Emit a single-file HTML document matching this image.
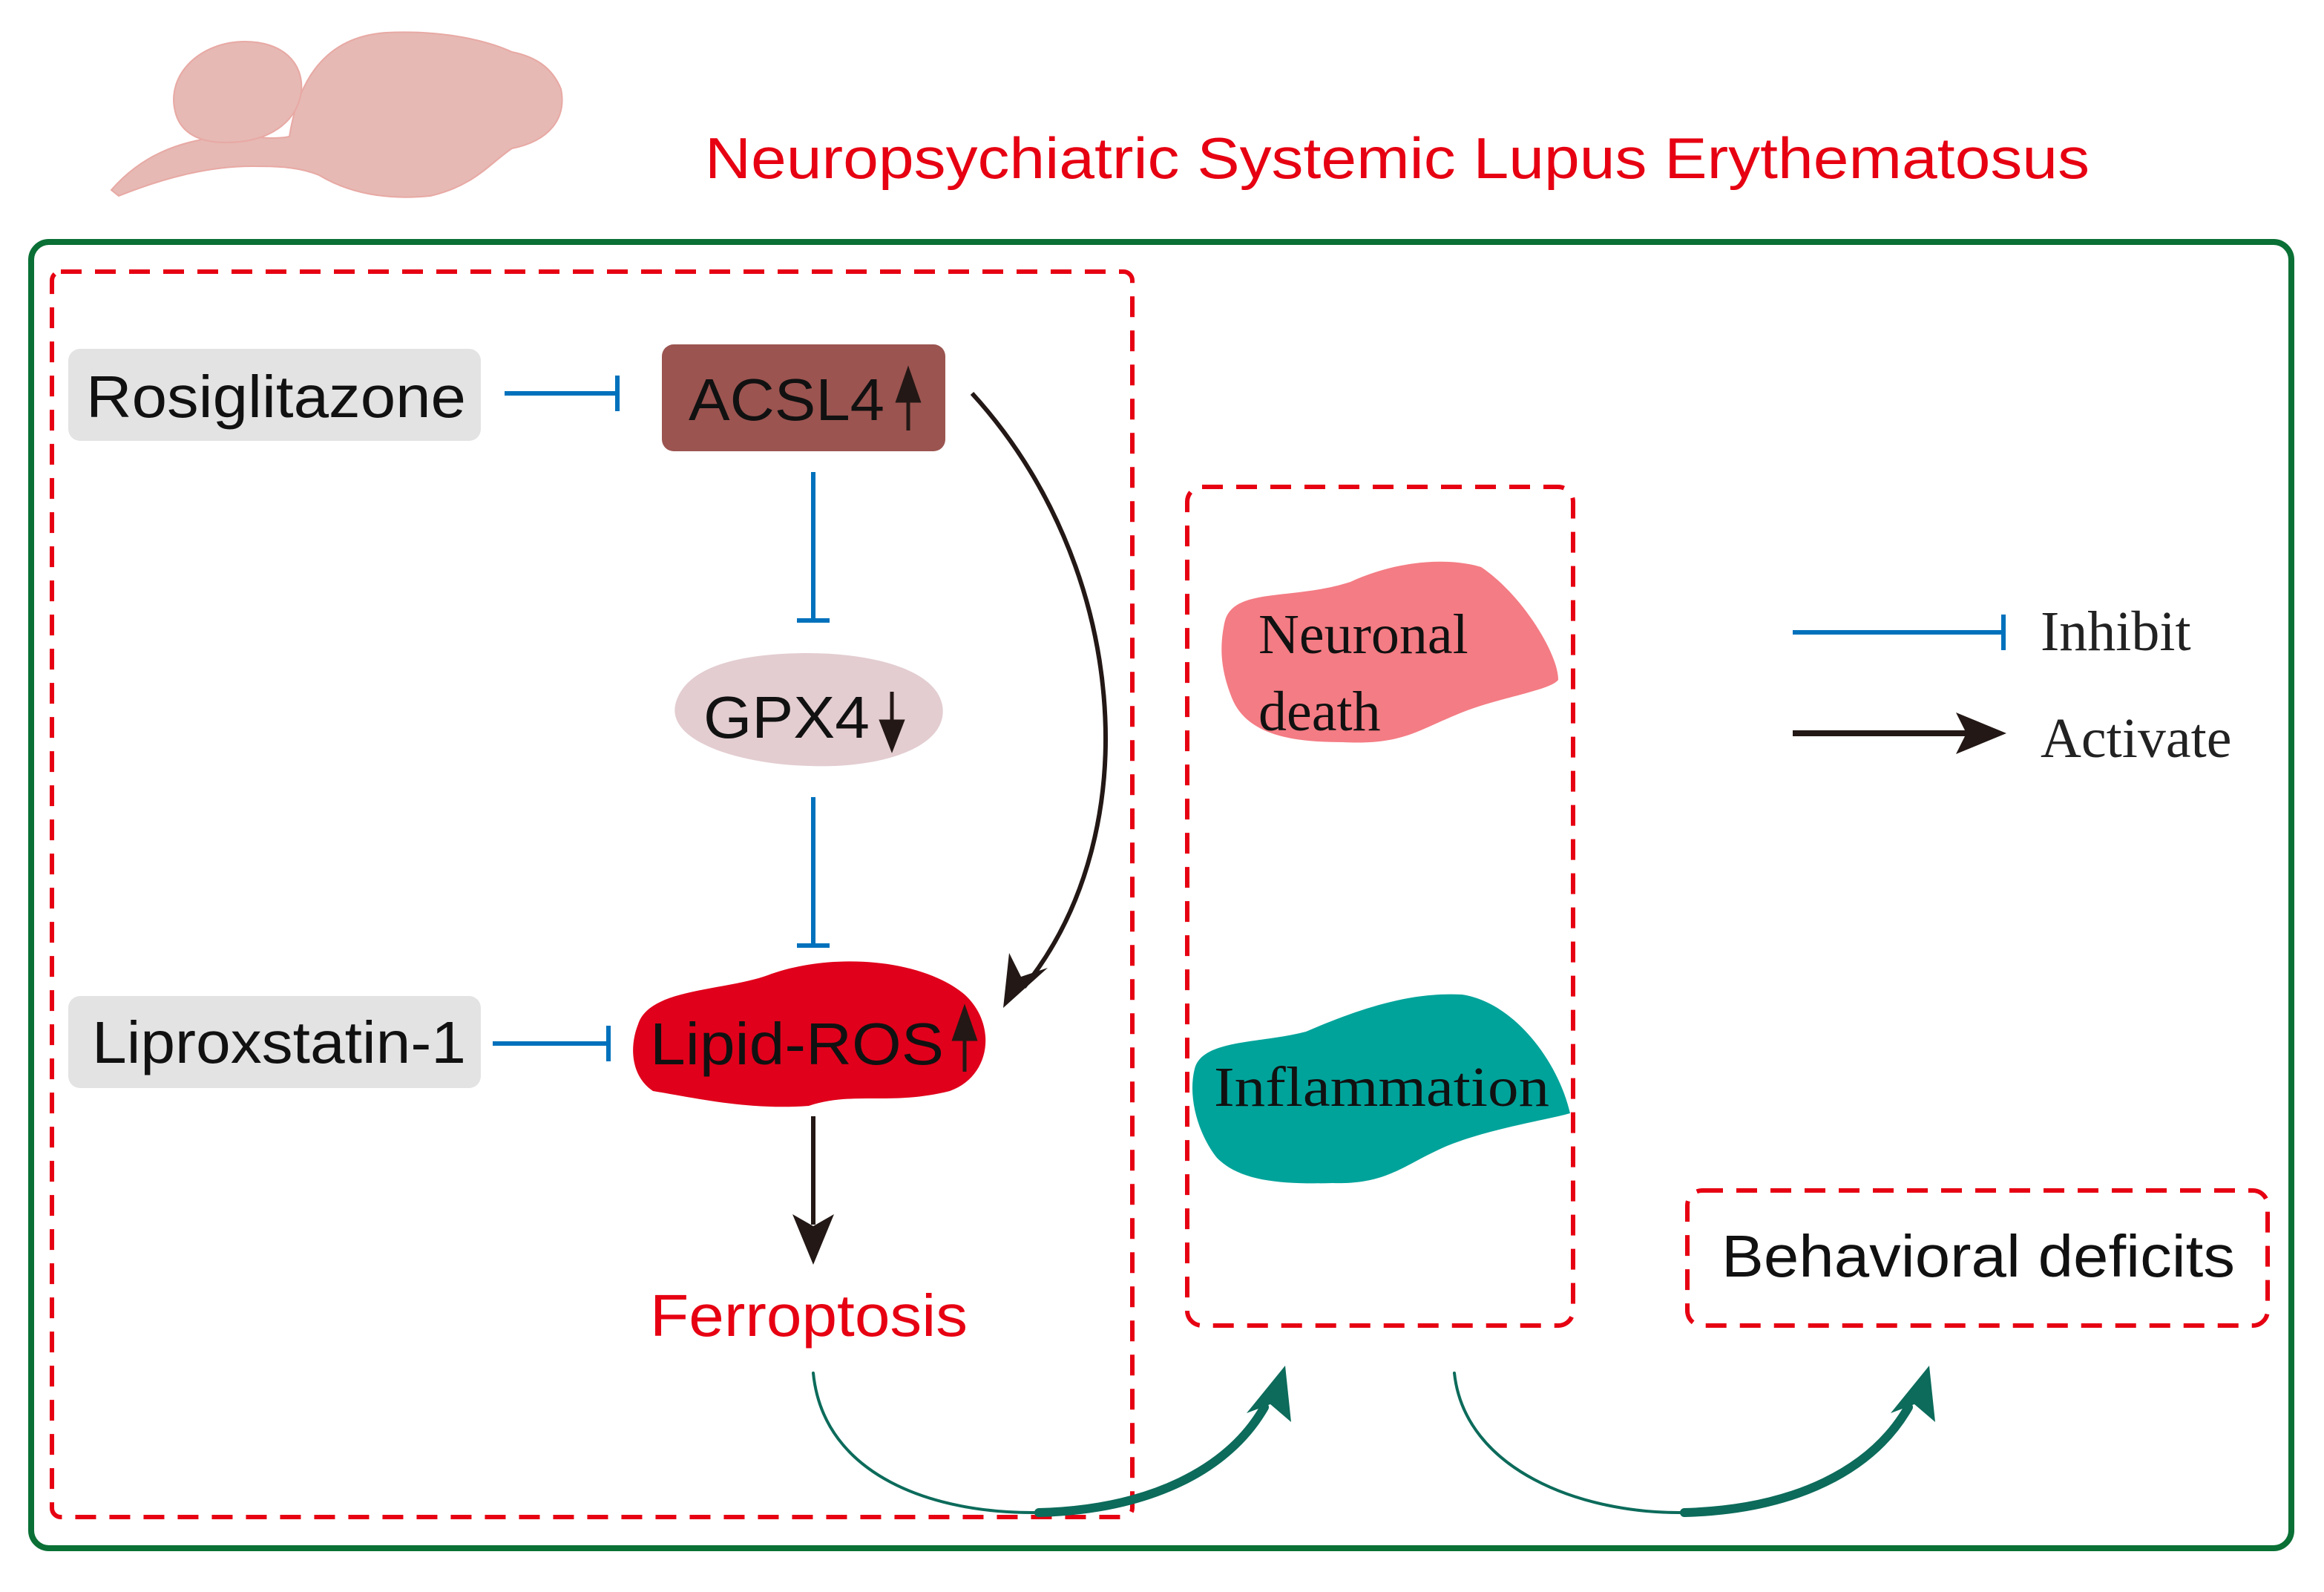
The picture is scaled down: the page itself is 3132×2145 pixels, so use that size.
<!DOCTYPE html>
<html><head><meta charset="utf-8"><style>
html,body{margin:0;padding:0;background:#fff;}
svg{display:block;}
.s{font-family:"Liberation Sans",Arial,sans-serif;}
.r{font-family:"Liberation Serif","DejaVu Serif",serif;}
</style></head><body>
<svg width="3132" height="2145" viewBox="0 0 1566 1072.5" xmlns="http://www.w3.org/2000/svg">
<!-- brain -->
<g fill="#e6b9b4" stroke="#e8a9a4" stroke-width="1">
<path d="M75,128 C95,105 120,95 150,92 C165,90 180,95 195,92 C200,60 215,25 260,22 C300,20 330,28 345,35 C360,38 372,45 378,60 C382,80 370,95 345,100 C330,110 320,125 290,132 C260,135 235,130 215,118 C200,112 185,112 170,112 C140,112 110,120 80,132 z"/>
<path d="M118,75 C112,50 135,28 165,28 C190,28 205,42 203,62 C200,82 182,96 152,96 C132,96 121,88 118,75 z"/>
</g>
<text x="475" y="120" class="s" font-size="39" fill="#e60012" textLength="933" lengthAdjust="spacingAndGlyphs">Neuropsychiatric Systemic Lupus Erythematosus</text>
<rect x="21" y="163" width="1523" height="880" rx="12" fill="none" stroke="#0a7035" stroke-width="4"/>
<g fill="none" stroke="#e60012" stroke-width="3" stroke-dasharray="14,9">
<rect x="35" y="183" width="728" height="839" rx="6"/>
<rect x="800" y="328" width="260" height="565" rx="10"/>
<rect x="1137" y="802" width="391" height="91" rx="10"/>
</g>
<rect x="46" y="235" width="278" height="62" rx="8" fill="#e3e3e3"/>
<text x="58" y="281" class="s" font-size="40" fill="#111" textLength="256" lengthAdjust="spacingAndGlyphs">Rosiglitazone</text>
<g stroke="#0071bc" stroke-width="3" fill="none">
<path d="M340,265 H416 M416,253 V277"/>
<path d="M548,318 V418 M537,418 H559"/>
<path d="M548,537 V637 M537,637 H559"/>
<path d="M332,703 H410 M410,691 V715"/>
<path d="M1208,426 H1350 M1350,414 V438"/>
</g>
<rect x="446" y="232" width="191" height="72" rx="8" fill="#9b5450"/>
<text x="464" y="283" class="s" font-size="40" fill="#111" textLength="132" lengthAdjust="spacingAndGlyphs">ACSL4</text>
<path d="M612,290 V258 M605,270 L612,250 L619,270 z" stroke="#231815" stroke-width="2.5" fill="#231815"/>
<path d="M455,475 C462,445 510,440 545,440 C585,440 630,450 635,475 C640,505 590,518 545,516 C500,515 450,500 455,475 z" fill="#e3cdd1"/>
<text x="474" y="497" class="s" font-size="40" fill="#111" textLength="112" lengthAdjust="spacingAndGlyphs">GPX4</text>
<path d="M601,466 V498 M594,486 L601,504 L608,486 z" stroke="#231815" stroke-width="2.5" fill="#231815"/>
<path d="M430,690 C438,665 490,668 520,656 C560,642 620,645 650,670 C672,690 668,725 640,735 C600,745 575,735 545,745 C505,748 470,740 440,735 C425,725 424,705 430,690 z" fill="#e0001b"/>
<text x="438" y="717" class="s" font-size="40" fill="#111" textLength="198" lengthAdjust="spacingAndGlyphs">Lipid-ROS</text>
<path d="M650,722 V688 M643,700 L650,680 L657,700 z" stroke="#231815" stroke-width="2.5" fill="#231815"/>
<rect x="46" y="671" width="278" height="62" rx="8" fill="#e3e3e3"/>
<text x="62" y="716" class="s" font-size="40" fill="#111" textLength="252" lengthAdjust="spacingAndGlyphs">Liproxstatin-1</text>
<path d="M655,265 C760,380 775,560 690,665" stroke="#231815" stroke-width="3" fill="none"/>
<path d="M676,679 L680,642 L688,658 L706,652 z" fill="#231815"/>
<path d="M548,752 V825" stroke="#231815" stroke-width="3"/>
<path d="M534,818 L548,852 L562,818 L548,826 z" fill="#231815"/>
<path d="M1208,494 H1330" stroke="#231815" stroke-width="4"/>
<path d="M1318,480 L1352,494 L1318,508 L1325,494 z" fill="#231815"/>
<text x="438" y="900" class="s" font-size="40" fill="#e60012" textLength="214" lengthAdjust="spacingAndGlyphs">Ferroptosis</text>
<path d="M825,420 C830,395 870,405 910,392 C940,378 975,375 998,382 C1025,400 1050,440 1050,458 C1045,465 1010,470 985,480 C955,492 945,502 905,500 C870,500 840,495 830,470 C822,450 822,435 825,420 z" fill="#f47c84"/>
<text x="848" y="440" class="r" font-size="38" fill="#111">Neuronal</text>
<text x="848" y="492" class="r" font-size="38" fill="#111">death</text>
<path d="M805,720 C810,700 850,703 880,695 C915,680 950,668 985,670 C1020,675 1050,715 1058,750 C1040,755 1005,760 975,772 C945,785 935,798 898,797 C860,798 835,795 820,780 C808,765 800,740 805,720 z" fill="#00a39a"/>
<text x="818" y="745" class="r" font-size="38" fill="#111" textLength="226" lengthAdjust="spacingAndGlyphs">Inflammation</text>
<text x="1375" y="438" class="r" font-size="38" fill="#222">Inhibit</text>
<text x="1375" y="510" class="r" font-size="38" fill="#222">Activate</text>
<text x="1160" y="860" class="s" font-size="40" fill="#111" textLength="346" lengthAdjust="spacingAndGlyphs">Behavioral deficits</text>
<g fill="none" stroke="#0c6b5b" stroke-linecap="round">
<path d="M548,925 C555,995 630,1020 700,1019" stroke-width="2"/>
<path d="M700,1019 C775,1017 828,990 852,948" stroke-width="6"/>
<path d="M980,925 C987,990 1065,1020 1135,1019" stroke-width="2"/>
<path d="M1135,1019 C1210,1017 1262,990 1286,948" stroke-width="6"/>
</g>
<path d="M866,920 L870,958 L856,946 L840,952 z" fill="#0c6b5b"/>
<path d="M1300,920 L1304,958 L1290,946 L1274,952 z" fill="#0c6b5b"/>
</svg>
</body></html>
